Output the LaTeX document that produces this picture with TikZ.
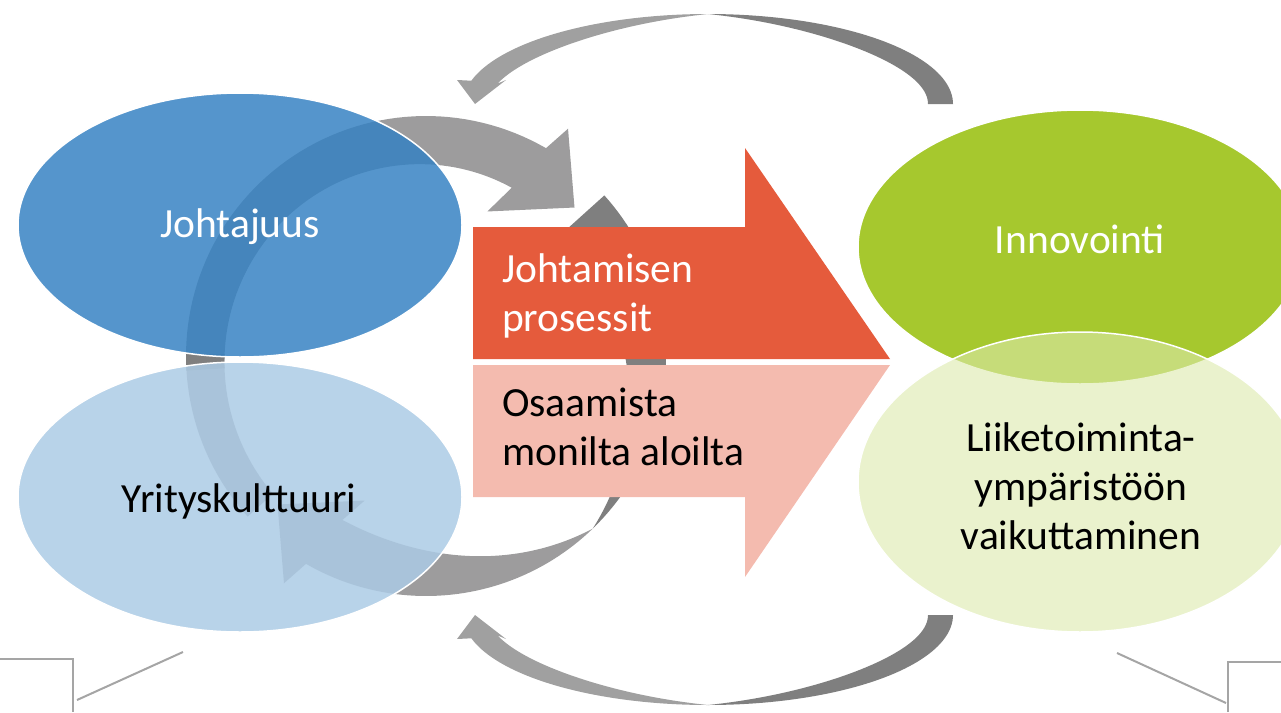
\documentclass[tikz,border=0pt]{standalone}
\usepackage{fontspec}
\setmainfont{Carlito}
\definecolor{ringlight}{RGB}{157,156,157}
\definecolor{ringdark}{RGB}{127,127,127}
\definecolor{arclight}{RGB}{160,160,160}
\definecolor{arcdark}{RGB}{127,127,127}
\definecolor{leadblue}{RGB}{53,129,194}
\definecolor{cultblue}{RGB}{172,203,229}
\definecolor{procorange}{RGB}{229,91,60}
\definecolor{skillpink}{RGB}{244,187,175}
\definecolor{innogreen}{RGB}{166,200,46}
\definecolor{envgreen}{RGB}{220,234,171}
\definecolor{calloutgray}{RGB}{165,165,165}

% head of a cycle arrow (centre 426/356), ending at 45 deg
\newcommand{\ringhead}{%
    -- ({426+268*cos(58)},{356-268*sin(58)})
    -- ({426+210*cos(45)},{356-210*sin(45)})
    -- ({426+157*cos(67)},{356-157*sin(67)})}

% inner radius of the untwisted cycle arrow at angle #1
\newcommand{\plainin}[1]{(195-11*(120-#1)/102)}

% cycle arrow with a twist: tail at 222 deg, twist at 134 deg, head at 45 deg
\newcommand{\ringtwisted}{%
  \fill[ringdark]
    plot[domain=222:134,samples=50] ({426+240*cos(\x)},{356-240*sin(\x)})
    -- plot[domain=134:222,samples=50]
       ({426+(240-56*cos(90*(222-\x)/88))*cos(\x)},{356-(240-56*cos(90*(222-\x)/88))*sin(\x)})
    -- cycle;
  \fill[ringlight]
    plot[domain=134:60,samples=50] ({426+240*cos(\x)},{356-240*sin(\x)})
    \ringhead
    -- plot[domain=63:134,samples=50]
       ({426+(240-56*sin(90*(134-\x)/73))*cos(\x)},{356-(240-56*sin(90*(134-\x)/73))*sin(\x)})
    -- cycle;
}

% cycle arrow without a twist; its back face shows only around 181 deg
\newcommand{\ringplain}{%
  \fill[ringlight]
    plot[domain=222:60,samples=80] ({426+240*cos(\x)},{356-240*sin(\x)})
    \ringhead
    -- plot[domain=63:222,samples=80]
       ({426+\plainin{\x}*cos(\x)},{356-\plainin{\x}*sin(\x)})
    -- cycle;
  \fill[ringdark]
    plot[domain=183.5:179.5,samples=10] ({426+240*cos(\x)},{356-240*sin(\x)})
    -- plot[domain=179.5:183.5,samples=10]
       ({426+\plainin{\x}*cos(\x)},{356-\plainin{\x}*sin(\x)})
    -- cycle;
}

% large twisted return arrow; #1 = base line y, #2 = 1 (above) or -1 (below)
\newcommand{\returnarc}[2]{%
  \fill[arcdark]
    plot[domain=0:90,samples=50] ({708+245*cos(\x)},{#1-(#2)*90*sin(\x)})
    -- plot[domain=90:0,samples=50]
       ({708+(245-25*cos(\x))*cos(\x)},{#1-(#2)*(90-25*cos(\x))*sin(\x)})
    -- cycle;
  \fill[arclight]
    plot[domain=90:165,samples=50] ({708+245*cos(\x)},{#1-(#2)*90*sin(\x)})
    -- (457,{#1-(#2)*24}) -- (475,#1) -- (506,{#1-(#2)*24})
    -- plot[domain=162:90,samples=50]
       ({708+(245-25*abs(cos(\x)))*cos(\x)},{#1-(#2)*(90-25*abs(cos(\x)))*sin(\x)})
    -- cycle;
}

\begin{document}
\begin{tikzpicture}[x=1pt,y=-1pt,
  lbl/.style={font=\fontsize{41.5}{49}\selectfont, inner sep=0pt},
  bubble/.style={draw=white, line width=1.5pt},
  callout/.style={draw=calloutgray, line width=2pt}]
\useasboundingbox (0,0) rectangle (1281,712);

% inner cycle of two arrows
\ringplain
\begin{scope}[rotate around={180:(426,356)}]
  \ringtwisted
\end{scope}

% outer return arrows
\returnarc{104}{1}
\returnarc{615}{-1}

% left bubbles
\path[bubble, fill=leadblue, fill opacity=0.84]
  (240,225) ellipse [x radius=222pt, y radius=132pt];
\path[bubble, fill=cultblue, fill opacity=0.85]
  (240,497) ellipse [x radius=222pt, y radius=135pt];

% central block arrow, split in two halves
\fill[procorange] (473,227) -- (745,227) -- (745,148) -- (890,359) -- (473,359) -- cycle;
\fill[skillpink] (473,365) -- (890,365) -- (745,577) -- (745,497) -- (473,497) -- cycle;

% right bubbles
\path[bubble, fill=innogreen]
  (1080,247) ellipse [x radius=222pt, y radius=137pt];
\path[bubble, fill=envgreen, fill opacity=0.6]
  (1080,482) ellipse [x radius=222pt, y radius=150pt];

% labels
\node[lbl, text=white, anchor=base] (johtajuus) at (240,237) {Johtajuus};
\node[lbl, anchor=base] (yrityskulttuuri) at (239,512) {Yrityskulttuuri};
\node[lbl, text=white, anchor=base west] (prosessit) at (502,282)
  {\begin{tabular}[t]{@{}l@{}}Johtamisen\\prosessit\end{tabular}};
\node[lbl, anchor=base west] (osaaminen) at (502,416)
  {\begin{tabular}[t]{@{}l@{}}Osaamista\\monilta aloilta\end{tabular}};
\node[lbl, text=white, anchor=base] (innovointi) at (1080,253) {Innovointi};
\node[lbl, anchor=base] (liiketoiminta) at (1081,451)
  {\begin{tabular}[t]{@{}c@{}}Liiketoiminta-\\ympäristöön\\vaikuttaminen\end{tabular}};

% callout frames at the lower corners
\coordinate (cl1) at (0,659);
\coordinate (cl2) at (73,659);
\coordinate (cl3) at (73,712);
\coordinate (cl4) at (77,700);
\coordinate (cl5) at (183,652);
\coordinate (cr1) at (1117,653);
\coordinate (cr2) at (1226,703);
\coordinate (cr3) at (1228,712);
\coordinate (cr4) at (1228,662);
\coordinate (cr5) at (1281,662);
\draw[callout] (cl1) -- (cl2) -- (cl3);
\draw[callout] (cl4) -- (cl5);
\draw[callout] (cr1) -- (cr2);
\draw[callout] (cr3) -- (cr4) -- (cr5);
\end{tikzpicture}
\end{document}
